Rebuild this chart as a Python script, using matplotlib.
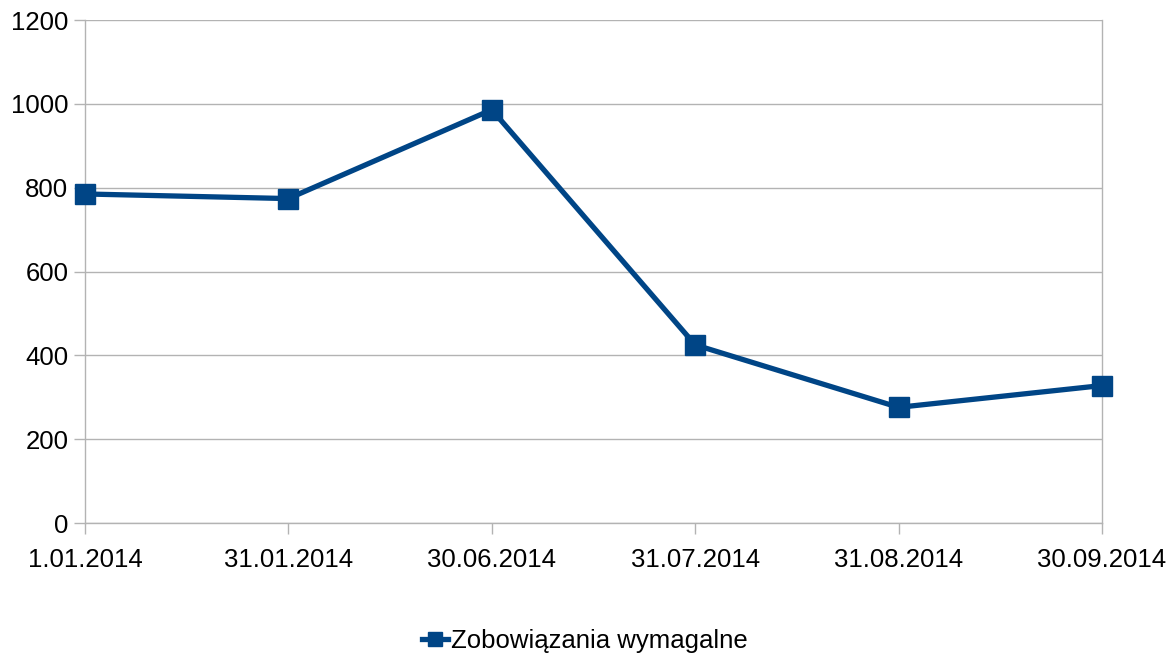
import matplotlib.pyplot as plt

dates = ['1.01.2014', '31.01.2014', '30.06.2014', '31.07.2014', '31.08.2014', '30.09.2014']
values = [785, 774, 986, 425, 276, 328]
series_name = 'Zobowiązania wymagalne'

plt.rcParams['font.family'] = ['Liberation Sans', 'DejaVu Sans']

fig = plt.figure(figsize=(11.7, 6.56), dpi=100)
ax = fig.add_axes([0.0726, 0.2027, 0.8693, 0.7668])

x = list(range(len(dates)))
ax.plot(x, values, color='#004586', lw=3.8, marker='s', markersize=14,
        label=series_name, zorder=3, clip_on=False)

ax.set_xlim(0, len(dates) - 1)
ax.set_ylim(0, 1200)
ax.set_yticks(range(0, 1201, 200))
ax.set_xticks(x)
ax.set_xticklabels(dates)

# Grid and frame
ax.yaxis.grid(True, color='#b3b3b3', lw=1)
ax.set_axisbelow(True)
for s in ['left', 'right', 'bottom']:
    ax.spines[s].set_color('#b3b3b3')
    ax.spines[s].set_linewidth(1)
ax.spines['top'].set_visible(False)
ax.tick_params(axis='both', colors='#b3b3b3', labelcolor='black', labelsize=18.5, length=8, width=1)
ax.tick_params(axis='x', pad=10)
ax.tick_params(axis='y', pad=4)

fig.legend(loc='center', bbox_to_anchor=(0.5, 1 - 641 / 656), frameon=False,
           fontsize=18.5, handlelength=1.0, handletextpad=0.1, markerscale=0.75)

plt.savefig('out.png', dpi=100)
